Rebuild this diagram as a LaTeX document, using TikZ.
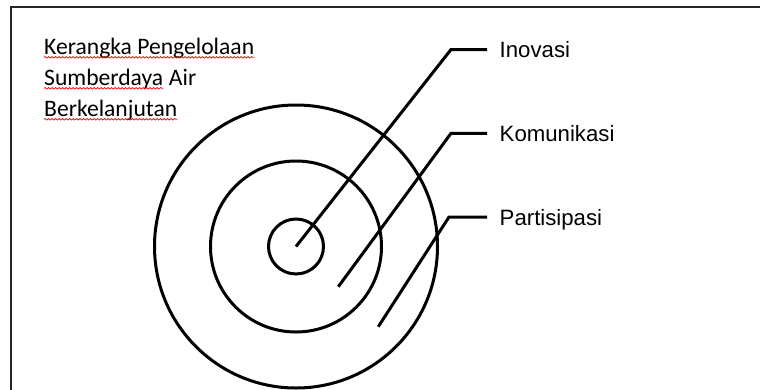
\documentclass[tikz,border=0pt]{standalone}
\usepackage{fontspec}
\setmainfont{Carlito}
\newfontfamily\labelfont{Liberation Sans}
\usetikzlibrary{decorations.pathmorphing}

\begin{document}
\begin{tikzpicture}[x=1pt,y=-1pt,
  ring/.style={line width=3pt},
  penunjuk/.style={line width=3pt},
  kata/.style={anchor=west, inner xsep=12.5pt, inner ysep=0pt, text depth=0pt, font={\labelfont\fontsize{22.2}{26}\selectfont}},
  judul/.style={anchor=base west, inner sep=0pt, font={\fontsize{23.6}{31}\selectfont}},
  salah/.style={red, line width=0.7pt, decorate, decoration={snake, amplitude=0.8pt, segment length=3.5pt}}]
\useasboundingbox (0,0) rectangle (760,389);
\clip (0,0) rectangle (760,389);
\draw[line width=2pt, black!85] (800,7) -- (11,7) -- (11,450);
% judul kiri atas
\node[judul] (judulA) at (44,54) {Kerangka Pengelolaan};
\node[judul] (sumber) at (44,85) {Sumberdaya};
\node[judul] (air) at ([xshift=5.3pt]sumber.base east) {Air};
\node[judul] (judulC) at (44,116) {Berkelanjutan};
\draw[salah] ([yshift=-3.3pt]judulA.base west) -- ([yshift=-3.3pt]judulA.base east);
\draw[salah] ([yshift=-3.3pt]sumber.base west) -- ([yshift=-3.3pt]sumber.base east);
\draw[salah] ([yshift=-3.3pt]judulC.base west) -- ([yshift=-3.3pt]judulC.base east);
% lingkaran
\coordinate (pusat) at (296,246.5);
\draw[ring] (pusat) circle[radius=27.5];
\draw[ring] (pusat) circle[radius=85.5];
\draw[ring] (pusat) circle[radius=141.5];
% label
\node[kata] (inovasi) at (487,49.5) {Inovasi};
\node[kata] (komunikasi) at (487,133.3) {Komunikasi};
\node[kata] (partisipasi) at (487,217) {Partisipasi};
\coordinate (ujungB) at (338.3,286.7);
\coordinate (ujungC) at (378.3,326.7);
\coordinate (tekukA) at (451,49.5);
\coordinate (tekukB) at (451,133.3);
\coordinate (tekukC) at (449,217);
\draw[penunjuk] (pusat) -- (tekukA) -- (inovasi.west);
\draw[penunjuk] (ujungB) -- (tekukB) -- (komunikasi.west);
\draw[penunjuk] (ujungC) -- (tekukC) -- (partisipasi.west);
\end{tikzpicture}
\end{document}
